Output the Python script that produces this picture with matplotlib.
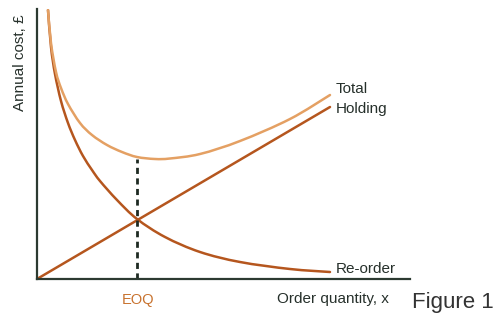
import matplotlib
matplotlib.use("Agg")
import matplotlib.pyplot as plt
from matplotlib.path import Path
from matplotlib.patches import PathPatch

# ---- data (arbitrary units) ----
reorder_x = [11, 14, 18, 24, 31, 38, 46, 55, 63, 80, 100, 128, 163, 203, 253, 293]
reorder_y = [269, 232, 205, 178, 156, 139, 123, 109, 98, 79, 60, 42, 27, 17, 10, 7]

total_x = [11, 14, 19, 24, 31, 43, 55, 70, 85, 100, 118, 133, 163, 203, 253, 293]
total_y = [269, 236, 207, 191, 175, 156, 144, 134, 127, 122, 120, 120.5, 125, 138, 160, 184]

holding_x = [0, 293]
holding_y = [0, 172]

eoq_x = 100
eoq_total = 120

labels = {"total": "Total", "holding": "Holding", "reorder": "Re-order"}

W, H = 498, 317
fig = plt.figure(figsize=(W / 100, H / 100), dpi=100)
fig.patch.set_facecolor("white")

def fx(px):
    return px / W

def fy(py):
    return 1 - py / H

ax = fig.add_axes([fx(37), fy(279), (410 - 37) / W, (279 - 9) / H])
ax.set_xlim(0, 373)
ax.set_ylim(0, 270)

light = "#E4A063"
dark = "#B5561E"
axis_col = "#2C3A31"


def smooth_path(xs, ys):
    """Catmull-Rom curve through the read points, as cubic Bezier segments."""
    pts = list(zip(xs, ys))
    n = len(pts)
    verts = [pts[0]]
    codes = [Path.MOVETO]
    for i in range(n - 1):
        p0 = pts[i - 1] if i > 0 else pts[i]
        p1 = pts[i]
        p2 = pts[i + 1]
        p3 = pts[i + 2] if i + 2 < n else pts[i + 1]
        c1 = (p1[0] + (p2[0] - p0[0]) / 6, p1[1] + (p2[1] - p0[1]) / 6)
        c2 = (p2[0] - (p3[0] - p1[0]) / 6, p2[1] - (p3[1] - p1[1]) / 6)
        verts += [c1, c2, p2]
        codes += [Path.CURVE4] * 3
    return Path(verts, codes)


ax.add_patch(PathPatch(smooth_path(reorder_x, reorder_y), fill=False, edgecolor=dark,
                       lw=1.8, capstyle="round", joinstyle="round"))
ax.add_patch(PathPatch(smooth_path(total_x, total_y), fill=False, edgecolor=light,
                       lw=1.8, capstyle="round", joinstyle="round"))
ax.plot(holding_x, holding_y, color=dark, lw=1.8, solid_capstyle="round")
ax.vlines(eoq_x, 0, eoq_total, colors="#1E2A22", lw=2.0, linestyles=(0, (2.2, 1.6)))

for s in ["top", "right"]:
    ax.spines[s].set_visible(False)
for s in ["left", "bottom"]:
    ax.spines[s].set_color(axis_col)
    ax.spines[s].set_linewidth(1.6)
ax.set_xticks([])
ax.set_yticks([])
ax.patch.set_alpha(0)

font = "Liberation Sans"
txt_col = "#26302B"
fs = 11

fig.text(fx(336), fy(93), labels["total"], fontsize=fs, family=font, color=txt_col, va="baseline", ha="left")
fig.text(fx(336), fy(113), labels["holding"], fontsize=fs, family=font, color=txt_col, va="baseline", ha="left")
fig.text(fx(336), fy(273), labels["reorder"], fontsize=fs, family=font, color=txt_col, va="baseline", ha="left")
fig.text(fx(138), fy(304), "EOQ", fontsize=10.5, family=font, color="#C8722E", va="baseline", ha="center")
fig.text(fx(277), fy(303), "Order quantity, x", fontsize=fs, family=font, color=txt_col, va="baseline", ha="left")
fig.text(fx(20), fy(63), "Annual cost, £", fontsize=fs, family=font, color=txt_col, rotation=90, va="center", ha="center")
fig.text(fx(412), fy(308), "Figure 1", fontsize=16, family=font, color="#333333", va="baseline", ha="left")

fig.savefig("out.png", dpi=100, facecolor="white")
